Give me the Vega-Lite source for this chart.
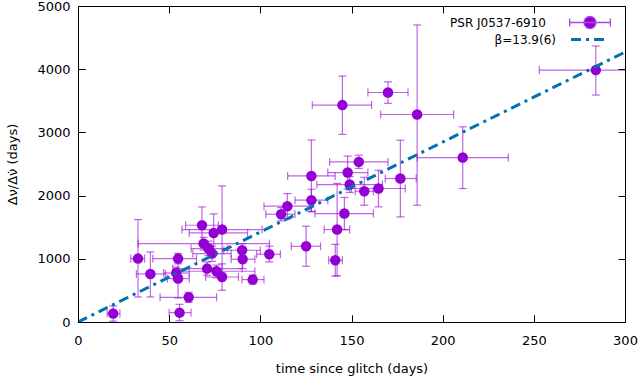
{
  "$schema": "https://vega.github.io/schema/vega-lite/v6.json",
  "width": 547,
  "height": 316,
  "autosize": {"type": "none"},
  "padding": {"left": 78, "top": 6, "right": 13, "bottom": 62},
  "background": "white",
  "config": {
    "view": {"stroke": "#000", "strokeWidth": 1},
    "font": "DejaVu Sans",
    "legend": {"labelFontSize": 12, "labelColor": "#000", "labelAlign": "right", "padding": 0, "title": null}
  },
  "datasets": {
    "pts": [
      {"t": 19.3, "y": 133, "tlo": 16, "thi": 23, "ylo": 13, "yhi": 253, "series": "PSR J0537-6910"},
      {"t": 32.9, "y": 1003, "tlo": 29, "thi": 36.5, "ylo": 396, "yhi": 1621, "series": "PSR J0537-6910"},
      {"t": 39.7, "y": 760, "tlo": 32, "thi": 48, "ylo": 396, "yhi": 1108, "series": "PSR J0537-6910"},
      {"t": 54.9, "y": 1003, "tlo": 41, "thi": 65, "ylo": 920, "yhi": 1085, "series": "PSR J0537-6910"},
      {"t": 53.9, "y": 776, "tlo": 47, "thi": 61, "ylo": 680, "yhi": 870, "series": "PSR J0537-6910"},
      {"t": 54.9, "y": 687, "tlo": 49, "thi": 61, "ylo": 380, "yhi": 995, "series": "PSR J0537-6910"},
      {"t": 55.7, "y": 148, "tlo": 50, "thi": 62, "ylo": 20, "yhi": 280, "series": "PSR J0537-6910"},
      {"t": 60.7, "y": 391, "tlo": 45, "thi": 76, "ylo": 310, "yhi": 470, "series": "PSR J0537-6910"},
      {"t": 68, "y": 1531, "tlo": 59, "thi": 77, "ylo": 1240, "yhi": 1821, "series": "PSR J0537-6910"},
      {"t": 68.9, "y": 1241, "tlo": 33, "thi": 105, "ylo": 1140, "yhi": 1340, "series": "PSR J0537-6910"},
      {"t": 71.6, "y": 1162, "tlo": 62, "thi": 82, "ylo": 1050, "yhi": 1280, "series": "PSR J0537-6910"},
      {"t": 73.5, "y": 1083, "tlo": 63, "thi": 84, "ylo": 960, "yhi": 1200, "series": "PSR J0537-6910"},
      {"t": 74.4, "y": 1409, "tlo": 61, "thi": 93, "ylo": 1110, "yhi": 1710, "series": "PSR J0537-6910"},
      {"t": 79, "y": 1463, "tlo": 57, "thi": 101, "ylo": 773, "yhi": 2153, "series": "PSR J0537-6910"},
      {"t": 70.8, "y": 845, "tlo": 52, "thi": 90, "ylo": 740, "yhi": 950, "series": "PSR J0537-6910"},
      {"t": 75.9, "y": 803, "tlo": 55, "thi": 97, "ylo": 700, "yhi": 900, "series": "PSR J0537-6910"},
      {"t": 79, "y": 712, "tlo": 70, "thi": 88, "ylo": 502, "yhi": 920, "series": "PSR J0537-6910"},
      {"t": 90, "y": 1135, "tlo": 80, "thi": 100, "ylo": 1030, "yhi": 1240, "series": "PSR J0537-6910"},
      {"t": 90.3, "y": 993, "tlo": 84, "thi": 97, "ylo": 845, "yhi": 1141, "series": "PSR J0537-6910"},
      {"t": 95.8, "y": 671, "tlo": 90, "thi": 102, "ylo": 600, "yhi": 740, "series": "PSR J0537-6910"},
      {"t": 104.9, "y": 1072, "tlo": 98, "thi": 111, "ylo": 950, "yhi": 1200, "series": "PSR J0537-6910"},
      {"t": 111.4, "y": 1705, "tlo": 103, "thi": 119, "ylo": 1600, "yhi": 1810, "series": "PSR J0537-6910"},
      {"t": 114.8, "y": 1832, "tlo": 102, "thi": 127, "ylo": 1632, "yhi": 2032, "series": "PSR J0537-6910"},
      {"t": 125.1, "y": 1198, "tlo": 117, "thi": 133, "ylo": 882, "yhi": 1515, "series": "PSR J0537-6910"},
      {"t": 128, "y": 2311, "tlo": 115, "thi": 141, "ylo": 1742, "yhi": 2880, "series": "PSR J0537-6910"},
      {"t": 128, "y": 1927, "tlo": 119, "thi": 137, "ylo": 1750, "yhi": 2100, "series": "PSR J0537-6910"},
      {"t": 141.1, "y": 977, "tlo": 137.5, "thi": 145, "ylo": 725, "yhi": 1230, "series": "PSR J0537-6910"},
      {"t": 142.1, "y": 1463, "tlo": 135, "thi": 149, "ylo": 733, "yhi": 2193, "series": "PSR J0537-6910"},
      {"t": 146.1, "y": 1716, "tlo": 130, "thi": 162, "ylo": 1460, "yhi": 1970, "series": "PSR J0537-6910"},
      {"t": 145, "y": 3432, "tlo": 128.5, "thi": 161, "ylo": 2968, "yhi": 3891, "series": "PSR J0537-6910"},
      {"t": 147.9, "y": 2365, "tlo": 137, "thi": 159, "ylo": 2105, "yhi": 2625, "series": "PSR J0537-6910"},
      {"t": 149, "y": 2175, "tlo": 131, "thi": 167, "ylo": 2050, "yhi": 2300, "series": "PSR J0537-6910"},
      {"t": 154, "y": 2533, "tlo": 138, "thi": 170, "ylo": 2430, "yhi": 2640, "series": "PSR J0537-6910"},
      {"t": 157, "y": 2069, "tlo": 152, "thi": 162, "ylo": 1848, "yhi": 2290, "series": "PSR J0537-6910"},
      {"t": 164.8, "y": 2112, "tlo": 150, "thi": 179.5, "ylo": 1822, "yhi": 2401, "series": "PSR J0537-6910"},
      {"t": 170, "y": 3631, "tlo": 159, "thi": 181, "ylo": 3460, "yhi": 3800, "series": "PSR J0537-6910"},
      {"t": 176.8, "y": 2270, "tlo": 168.5, "thi": 185.5, "ylo": 1662, "yhi": 2876, "series": "PSR J0537-6910"},
      {"t": 186, "y": 3283, "tlo": 166, "thi": 206, "ylo": 1848, "yhi": 4700, "series": "PSR J0537-6910"},
      {"t": 211, "y": 2602, "tlo": 186, "thi": 236, "ylo": 2112, "yhi": 3088, "series": "PSR J0537-6910"},
      {"t": 284, "y": 3986, "tlo": 253, "thi": 315, "ylo": 3591, "yhi": 4367, "series": "PSR J0537-6910"}
    ],
    "fit": [
      {"t": 0, "y": 0, "series": "β=13.9(6)"},
      {"t": 300, "y": 4270, "series": "β=13.9(6)"}
    ]
  },
  "layer": [
    {
      "data": {"name": "pts"},
      "mark": {"type": "rule", "color": "#9400D3", "opacity": 0.6, "strokeWidth": 1.2, "clip": true},
      "encoding": {
        "x": {"field": "tlo", "type": "quantitative",
          "scale": {"domain": [0, 300], "nice": false, "zero": false},
          "axis": {"orient": "bottom", "values": [0, 50, 100, 150, 200, 250, 300], "zindex": 1,
            "format": "d", "ticks": true, "tickSize": -7, "tickColor": "#000", "tickWidth": 1, "tickOpacity": 1, "domain": false,
            "grid": true, "gridColor": "#000", "gridOpacity": 1, "gridWidth": 1, "gridDash": [7, 302, 7, 100],
            "labelPadding": 19, "labelFontSize": 13, "labelColor": "#000", "labelFlush": false, "labelOverlap": false,
            "title": "time since glitch (days)", "titleFontSize": 13, "titleFontWeight": "normal", "titleColor": "#000", "titlePadding": 15}},
        "x2": {"field": "thi"},
        "y": {"field": "y", "type": "quantitative",
          "scale": {"domain": [0, 5000], "nice": false, "zero": false},
          "axis": {"orient": "left", "values": [0, 1000, 2000, 3000, 4000, 5000], "zindex": 1,
            "format": "d", "ticks": true, "tickSize": -7, "tickColor": "#000", "tickWidth": 1, "tickOpacity": 1, "domain": false,
            "grid": true, "gridColor": "#000", "gridOpacity": 1, "gridWidth": 1, "gridDash": [7, 533, 7, 100],
            "labelPadding": 15, "labelFontSize": 13, "labelColor": "#000", "labelFlush": false, "labelOverlap": false,
            "title": "Δν/Δν̇ (days)", "titleFontSize": 13, "titleFontWeight": "normal", "titleColor": "#000", "titlePadding": 17}}
      }
    },
    {
      "data": {"name": "pts"},
      "mark": {"type": "tick", "orient": "vertical", "color": "#9400D3", "opacity": 0.6, "size": 8, "thickness": 1.2, "clip": true},
      "encoding": {
        "x": {"field": "tlo", "type": "quantitative"},
        "y": {"field": "y", "type": "quantitative"}
      }
    },
    {
      "data": {"name": "pts"},
      "mark": {"type": "tick", "orient": "vertical", "color": "#9400D3", "opacity": 0.6, "size": 8, "thickness": 1.2, "clip": true},
      "encoding": {
        "x": {"field": "thi", "type": "quantitative"},
        "y": {"field": "y", "type": "quantitative"}
      }
    },
    {
      "data": {"name": "pts"},
      "mark": {"type": "rule", "color": "#9400D3", "opacity": 0.6, "strokeWidth": 1.2, "clip": true},
      "encoding": {
        "x": {"field": "t", "type": "quantitative"},
        "y": {"field": "ylo", "type": "quantitative"},
        "y2": {"field": "yhi"}
      }
    },
    {
      "data": {"name": "pts"},
      "mark": {"type": "tick", "orient": "horizontal", "color": "#9400D3", "opacity": 0.6, "size": 8, "thickness": 1.2, "clip": true},
      "encoding": {
        "x": {"field": "t", "type": "quantitative"},
        "y": {"field": "ylo", "type": "quantitative"}
      }
    },
    {
      "data": {"name": "pts"},
      "mark": {"type": "tick", "orient": "horizontal", "color": "#9400D3", "opacity": 0.6, "size": 8, "thickness": 1.2, "clip": true},
      "encoding": {
        "x": {"field": "t", "type": "quantitative"},
        "y": {"field": "yhi", "type": "quantitative"}
      }
    },
    {
      "data": {"name": "pts"},
      "mark": {"type": "point", "shape": "circle", "filled": true, "opacity": 1, "size": 110, "clip": true},
      "encoding": {
        "x": {"field": "t", "type": "quantitative"},
        "y": {"field": "y", "type": "quantitative"},
        "color": {"field": "series", "type": "nominal",
          "scale": {"domain": ["PSR J0537-6910"], "range": ["#9400D3"]},
          "legend": {"orient": "none", "legendX": 506, "legendY": 10.5, "labelOffset": -50, "symbolSize": 100, "symbolStrokeColor": "#a844e0", "symbolStrokeWidth": 1.3, "symbolOpacity": 1,
            "symbolType": "M-4.07,0L4.07,0M-4.07,-0.8L-4.07,0.8M4.07,-0.8L4.07,0.8M1.2,0L1.109,0.459L0.849,0.849L0.459,1.109L0,1.2L-0.459,1.109L-0.849,0.849L-1.109,0.459L-1.2,0L-1.109,-0.459L-0.849,-0.849L-0.459,-1.109L0,-1.2L0.459,-1.109L0.849,-0.849L1.109,-0.459Z"}
        }
      }
    },
    {
      "data": {"name": "fit"},
      "mark": {"type": "line", "color": "#0072B2", "strokeWidth": 3, "clip": true},
      "encoding": {
        "x": {"field": "t", "type": "quantitative"},
        "y": {"field": "y", "type": "quantitative"},
        "strokeDash": {"field": "series", "type": "nominal",
          "scale": {"domain": ["β=13.9(6)"], "range": [[10, 5, 3, 5]]},
          "legend": {"orient": "none", "legendX": 506, "legendY": 27, "labelOffset": -41, "symbolSize": 100, "symbolStrokeColor": "#0072B2", "symbolStrokeWidth": 3, "symbolOpacity": 1,
            "symbolType": "M-3.9,0L3.1,0"}
        }
      }
    }
  ]
}
